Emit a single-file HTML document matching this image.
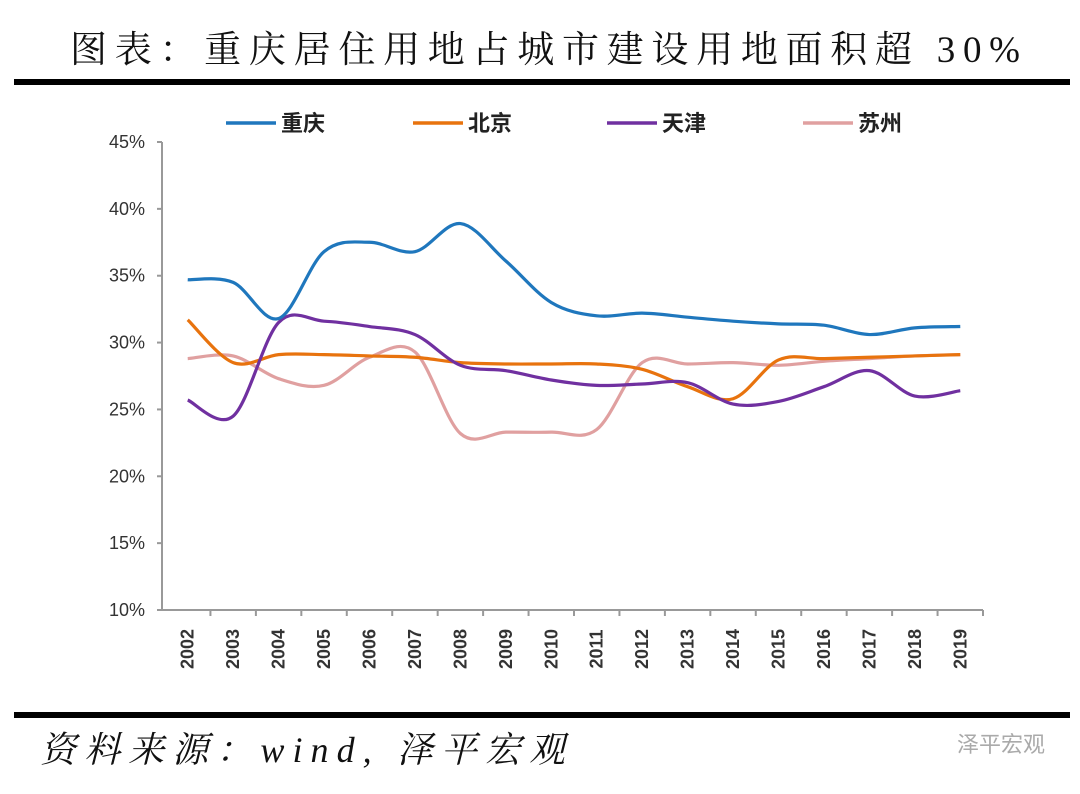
<!DOCTYPE html>
<html><head><meta charset="utf-8"><style>
body{margin:0;background:#fff;width:1080px;height:789px;overflow:hidden;font-family:"Liberation Sans","Noto Sans CJK SC",sans-serif;}
</style></head><body>
<svg width="1080" height="789" xmlns="http://www.w3.org/2000/svg" id="chart">
<text x="70" y="62" textLength="950" lengthAdjust="spacing" font-family="'Liberation Serif','Noto Serif CJK SC',serif" font-size="37" fill="#111">图表：重庆居住用地占城市建设用地面积超 30%</text>
<rect x="14" y="79" width="1056" height="6" fill="#000"/>
<rect x="14" y="712" width="1056" height="6" fill="#000"/>
<text x="40" y="762" textLength="525" lengthAdjust="spacing" font-family="'Liberation Serif','Noto Serif CJK SC',serif" font-style="italic" font-size="36" fill="#111">资料来源：wind, 泽平宏观</text>
<text x="1045" y="752" text-anchor="end" font-size="22" fill="#aaa">泽平宏观</text>
<g id="axes"></g><g id="lines"></g><g id="legend"></g>
</svg>
<script>
const years=["2002","2003","2004","2005","2006","2007","2008","2009","2010","2011","2012","2013","2014","2015","2016","2017","2018","2019"];
const yTicks=[10,15,20,25,30,35,40,45];
const seriesNames=["重庆","北京","天津","苏州"];
const chongqing=[34.7,34.5,31.8,36.8,37.5,36.8,38.9,36.1,33.0,32.0,32.2,31.9,31.6,31.4,31.3,30.6,31.1,31.2];
const beijing=[31.7,28.5,29.1,29.1,29.0,28.9,28.5,28.4,28.4,28.4,28.0,26.7,25.8,28.7,28.8,28.9,29.0,29.1];
const tianjin=[25.7,24.5,31.5,31.6,31.2,30.6,28.3,27.9,27.2,26.8,26.9,27.0,25.4,25.6,26.7,27.9,26.0,26.4];
const suzhou=[28.8,29.0,27.3,26.8,28.9,29.3,23.2,23.3,23.3,23.5,28.5,28.4,28.5,28.3,28.6,28.8,29.0,29.1];
const colors=["#1f77bd","#e8730e","#7030a0","#e0a0a0"];
const NS="http://www.w3.org/2000/svg";
const X0=165,X1=983,Y0=610,Y1=142,vmin=10,vmax=45;
const bw=(X1-X0)/years.length;
const xs=i=>X0+bw*(i+0.5);
const ys=v=>Y0-(v-vmin)/(vmax-vmin)*(Y0-Y1);
function mk(t,a,p){const e=document.createElementNS(NS,t);for(const k in a)e.setAttribute(k,a[k]);p.appendChild(e);return e;}
const ax=document.getElementById('axes');
let l=mk('line',{x1:X0-3,y1:Y1,x2:X0-3,y2:Y0,stroke:'#999','stroke-width':2},ax);


l=mk('line',{x1:X0-8,y1:Y0,x2:X1,y2:Y0,stroke:'#999','stroke-width':2},ax);


yTicks.forEach(v=>{
 mk('line',{x1:X0-8,y1:ys(v),x2:X0-3,y2:ys(v),stroke:'#999','stroke-width':2},ax);
 const t=mk('text',{x:X0-20,y:ys(v)+6,'text-anchor':'end','font-size':18,fill:'#333'},ax);
 t.textContent=v+'%';
 
 
});
years.forEach((y,i)=>{
 const tx=X0+bw*(i+1);
 mk('line',{x1:tx,y1:Y0,x2:tx,y2:Y0+6,stroke:'#999','stroke-width':2},ax);
 const cx=xs(i);
 const t=mk('text',{x:0,y:0,transform:`translate(${cx+6},649) rotate(-90)`,'text-anchor':'middle','font-size':18,'font-weight':'bold',fill:'#333'},ax);
 t.textContent=y;
 
 
});
function smooth(arr){
 const p=arr.map((v,i)=>[xs(i),ys(v)]);
 let d=`M${p[0][0]},${p[0][1]}`;
 for(let i=0;i<p.length-1;i++){
  const p0=p[i-1]||p[i],p1=p[i],p2=p[i+1],p3=p[i+2]||p2;
  const c1=[p1[0]+(p2[0]-p0[0])/6,p1[1]+(p2[1]-p0[1])/6];
  const c2=[p2[0]-(p3[0]-p1[0])/6,p2[1]-(p3[1]-p1[1])/6];
  d+=` C${c1[0]},${c1[1]} ${c2[0]},${c2[1]} ${p2[0]},${p2[1]}`;
 }
 return d;
}
const data=[chongqing,beijing,tianjin,suzhou];
const lg=document.getElementById('lines');
const keys=['chongqing','beijing','tianjin','suzhou'];
[3,1,2,0].forEach(k=>{
 const p=mk('path',{d:smooth(data[k]),fill:'none',stroke:colors[k],'stroke-width':3.2,'stroke-linejoin':'round'},lg);
 
 
});
const leg=document.getElementById('legend');
const lx=[226,413,607,803];
seriesNames.forEach((n,k)=>{
 mk('line',{x1:lx[k],y1:123,x2:lx[k]+50,y2:123,stroke:colors[k],'stroke-width':3.5},leg);
 const t=mk('text',{x:lx[k]+55,y:131,'font-size':22,'font-weight':'bold',fill:'#222'},leg);
 t.textContent=n;
 
 
});
</script>
</body></html>
